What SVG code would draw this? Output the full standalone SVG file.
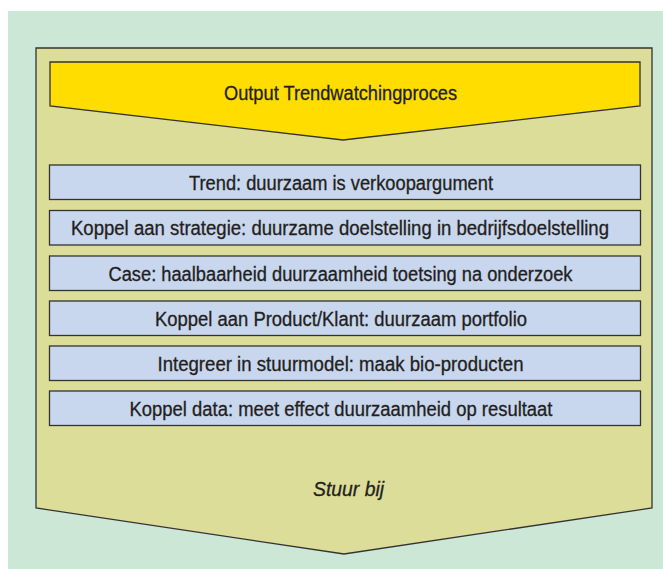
<svg xmlns="http://www.w3.org/2000/svg" width="663" height="569" viewBox="0 0 663 569">
<style>
.frame{fill:#dcdd98;stroke:#333;stroke-width:1.3}
.head{fill:#ffdd00;stroke:#333;stroke-width:1.3}
.box{fill:#c8d6ee;stroke:#333;stroke-width:1.3}
.t{font-family:"Liberation Sans",Arial,sans-serif;font-size:19.5px;fill:#231f20;stroke:#231f20;stroke-width:0.3;text-anchor:middle}
.i{font-style:italic}
</style>
<rect x="8" y="11" width="655" height="558" fill="#cde7d7"/>
<g id="frame">
<polygon class="frame" points="36,48 652,48 652,508 344,554 36,508"/>
<text class="t i" x="348.5" y="496" textLength="71" lengthAdjust="spacingAndGlyphs">Stuur bij</text>
</g>
<g id="output">
<polygon class="head" points="50,62 640,62 640,106 343,140 50,106"/>
<text class="t" x="340.5" y="100" textLength="233" lengthAdjust="spacingAndGlyphs">Output Trendwatchingproces</text>
</g>
<g id="step1">
<rect class="box" x="49.5" y="165" width="591" height="34.5"/>
<text class="t" x="341" y="189.5" textLength="304" lengthAdjust="spacingAndGlyphs">Trend: duurzaam is verkoopargument</text>
</g>
<g id="step2">
<rect class="box" x="49.5" y="210.5" width="591" height="34.5"/>
<text class="t" x="340" y="235" textLength="538" lengthAdjust="spacingAndGlyphs">Koppel aan strategie: duurzame doelstelling in bedrijfsdoelstelling</text>
</g>
<g id="step3">
<rect class="box" x="49.5" y="256" width="591" height="34.5"/>
<text class="t" x="340.5" y="280.5" textLength="464" lengthAdjust="spacingAndGlyphs">Case: haalbaarheid duurzaamheid toetsing na onderzoek</text>
</g>
<g id="step4">
<rect class="box" x="49.5" y="301" width="591" height="34.5"/>
<text class="t" x="341" y="325.5" textLength="372" lengthAdjust="spacingAndGlyphs">Koppel aan Product/Klant: duurzaam portfolio</text>
</g>
<g id="step5">
<rect class="box" x="49.5" y="346" width="591" height="34.5"/>
<text class="t" x="340.5" y="370.5" textLength="366" lengthAdjust="spacingAndGlyphs">Integreer in stuurmodel: maak bio-producten</text>
</g>
<g id="step6">
<rect class="box" x="49.5" y="391" width="591" height="34.5"/>
<text class="t" x="341" y="415.5" textLength="423" lengthAdjust="spacingAndGlyphs">Koppel data: meet effect duurzaamheid op resultaat</text>
</g>
<g id="connectors"/>
</svg>
